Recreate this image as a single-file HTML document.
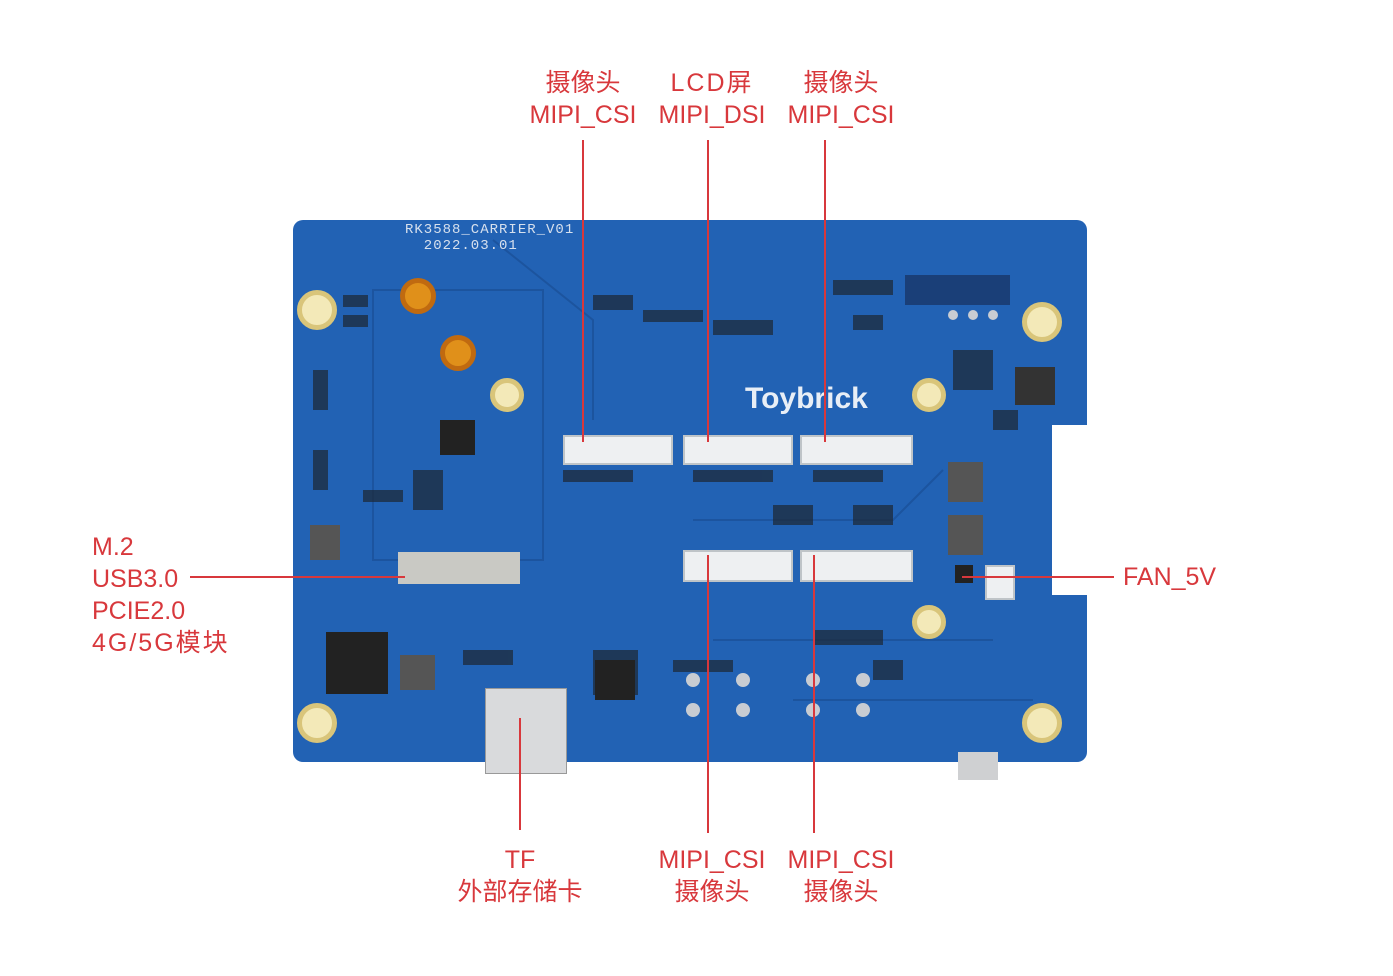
<!DOCTYPE html>
<html><head><meta charset="utf-8"><style>
body{margin:0;width:1393px;height:976px;background:#fff;position:relative;overflow:hidden;font-family:"Liberation Sans","Noto Sans CJK SC",sans-serif}
.t{position:absolute;color:#d8383c;font-size:25px;line-height:32px;white-space:nowrap}
.c{text-align:center;transform:translateX(-50%)}
.l{position:absolute;background:#d8383c}
.b{position:absolute;background:#2262b4}
.w{position:absolute;background:#eef0f2;border:2px solid #bfc4c8;box-sizing:border-box}
.h{position:absolute;border-radius:50%;background:#f3e9b8;border:5px solid #d9c57a;box-sizing:border-box}
.k{position:absolute;background:#222;}
</style></head><body>
<div class="b" style="left:293px;top:220px;width:794px;height:542px;border-radius:10px"></div>
<div style="position:absolute;left:1052px;top:425px;width:40px;height:170px;background:#fff"></div>
<svg style="position:absolute;left:293px;top:220px" width="794" height="542">
<g stroke="#1a4f96" stroke-width="2" fill="none" opacity=".7">
<path d="M80 70 L250 70 L250 340 L80 340 Z"/><path d="M200 20 L300 100 L300 200"/><path d="M400 300 L600 300 L650 250"/><path d="M420 420 L700 420"/><path d="M500 480 L740 480"/>
</g>
<g fill="#1d2a3a" opacity=".75">
<rect x="50" y="75" width="25" height="12"/><rect x="50" y="95" width="25" height="12"/><rect x="300" y="75" width="40" height="15"/><rect x="350" y="90" width="60" height="12"/><rect x="420" y="100" width="60" height="15"/><rect x="540" y="60" width="60" height="15"/><rect x="560" y="95" width="30" height="15"/><rect x="670" y="140" width="30" height="30"/><rect x="700" y="190" width="25" height="20"/>
<rect x="270" y="250" width="70" height="12"/><rect x="400" y="250" width="80" height="12"/><rect x="520" y="250" width="70" height="12"/><rect x="480" y="285" width="40" height="20"/><rect x="560" y="285" width="40" height="20"/>
<rect x="70" y="270" width="40" height="12"/><rect x="120" y="250" width="30" height="40"/><rect x="170" y="430" width="50" height="15"/><rect x="300" y="430" width="45" height="45"/><rect x="380" y="440" width="60" height="12"/><rect x="520" y="410" width="70" height="15"/><rect x="580" y="440" width="30" height="20"/><rect x="660" y="130" width="40" height="40"/><rect x="20" y="150" width="15" height="40"/><rect x="20" y="230" width="15" height="40"/>
</g>
<g fill="#c8ccd2"><circle cx="400" cy="460" r="7"/><circle cx="450" cy="460" r="7"/><circle cx="400" cy="490" r="7"/><circle cx="450" cy="490" r="7"/><circle cx="520" cy="460" r="7"/><circle cx="570" cy="460" r="7"/><circle cx="520" cy="490" r="7"/><circle cx="570" cy="490" r="7"/><circle cx="660" cy="95" r="5"/><circle cx="680" cy="95" r="5"/><circle cx="700" cy="95" r="5"/></g>
</svg>
<div style="position:absolute;left:405px;top:222px;color:#d6e0ee;font:14px 'Liberation Mono',monospace;letter-spacing:1px">RK3588_CARRIER_V01<br>&nbsp;&nbsp;2022.03.01</div>
<div style="position:absolute;left:745px;top:382px;color:#e8eef6;font:bold 30px 'Liberation Sans',sans-serif">Toybrick</div>
<div class="h" style="left:297px;top:290px;width:40px;height:40px"></div>
<div class="h" style="left:1022px;top:302px;width:40px;height:40px"></div>
<div class="h" style="left:490px;top:378px;width:34px;height:34px"></div>
<div class="h" style="left:912px;top:378px;width:34px;height:34px"></div>
<div class="h" style="left:912px;top:605px;width:34px;height:34px"></div>
<div class="h" style="left:297px;top:703px;width:40px;height:40px"></div>
<div class="h" style="left:1022px;top:703px;width:40px;height:40px"></div>
<div class="h" style="left:440px;top:335px;width:36px;height:36px;background:#e0901a;border-color:#c06a10"></div>
<div class="h" style="left:400px;top:278px;width:36px;height:36px;background:#e0901a;border-color:#c06a10"></div>
<div class="k" style="left:440px;top:420px;width:35px;height:35px"></div>
<div class="k" style="left:326px;top:632px;width:62px;height:62px"></div>
<div class="k" style="left:398px;top:552px;width:122px;height:32px;background:#c9c9c4"></div>
<div class="k" style="left:310px;top:525px;width:30px;height:35px;background:#555"></div>
<div class="k" style="left:400px;top:655px;width:35px;height:35px;background:#555"></div>
<div class="k" style="left:948px;top:462px;width:35px;height:40px;background:#555"></div>
<div class="k" style="left:948px;top:515px;width:35px;height:40px;background:#555"></div>
<div class="k" style="left:1015px;top:367px;width:40px;height:38px;background:#333"></div>
<div class="k" style="left:595px;top:660px;width:40px;height:40px"></div>
<div class="k" style="left:905px;top:275px;width:105px;height:30px;background:#1a3f78"></div>
<div style="position:absolute;left:485px;top:688px;width:80px;height:84px;background:#d9dadc;border:1px solid #999"></div>
<div style="position:absolute;left:958px;top:752px;width:40px;height:28px;background:#cfd0d2"></div>
<div class="w" style="left:563px;top:435px;width:110px;height:30px"></div>
<div class="w" style="left:683px;top:435px;width:110px;height:30px"></div>
<div class="w" style="left:800px;top:435px;width:113px;height:30px"></div>
<div class="w" style="left:683px;top:550px;width:110px;height:32px"></div>
<div class="w" style="left:800px;top:550px;width:113px;height:32px"></div>
<div class="w" style="left:985px;top:565px;width:30px;height:35px"></div>
<div class="k" style="left:955px;top:565px;width:18px;height:18px"></div>

<div class="t c" style="left:583px;top:67px">摄像头</div>
<div class="t c" style="left:583px;top:99px">MIPI_CSI</div>
<div class="t c" style="left:712px;top:67px;letter-spacing:2px">LCD屏</div>
<div class="t c" style="left:712px;top:99px">MIPI_DSI</div>
<div class="t c" style="left:841px;top:67px">摄像头</div>
<div class="t c" style="left:841px;top:99px">MIPI_CSI</div>
<div class="l" style="left:582px;top:140px;width:2px;height:302px"></div>
<div class="l" style="left:707px;top:140px;width:2px;height:302px"></div>
<div class="l" style="left:824px;top:140px;width:2px;height:302px"></div>
<div class="t" style="left:92px;top:531px;line-height:32px">M.2<br>USB3.0<br>PCIE2.0<br><span style="letter-spacing:2px">4G/5G模块</span></div>
<div class="l" style="left:190px;top:576px;width:215px;height:2px"></div>
<div class="t" style="left:1123px;top:561px">FAN_5V</div>
<div class="l" style="left:962px;top:576px;width:152px;height:2px"></div>
<div class="l" style="left:519px;top:718px;width:2px;height:112px"></div>
<div class="t c" style="left:520px;top:844px">TF</div>
<div class="t c" style="left:520px;top:876px">外部存储卡</div>
<div class="l" style="left:707px;top:555px;width:2px;height:278px"></div>
<div class="l" style="left:813px;top:555px;width:2px;height:278px"></div>
<div class="t c" style="left:712px;top:844px">MIPI_CSI</div>
<div class="t c" style="left:712px;top:876px">摄像头</div>
<div class="t c" style="left:841px;top:844px">MIPI_CSI</div>
<div class="t c" style="left:841px;top:876px">摄像头</div>
</body></html>
